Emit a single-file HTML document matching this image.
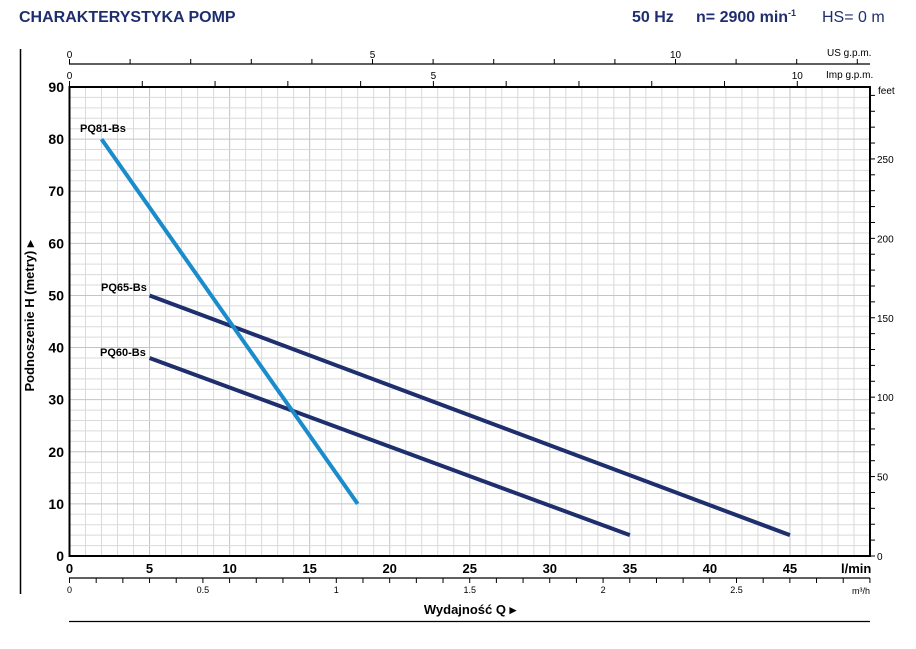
<!DOCTYPE html>
<html><head><meta charset="utf-8"><style>
body{margin:0;background:#fff;width:916px;height:649px;overflow:hidden}
svg{display:block;font-family:"Liberation Sans",sans-serif}
</style></head><body>
<svg id="s" width="916" height="649" xmlns="http://www.w3.org/2000/svg">
<text x="19" y="22" font-size="16" font-weight="bold" fill="#1f2f6e">CHARAKTERYSTYKA POMP</text>
<text x="632" y="22" font-size="16" font-weight="bold" fill="#1f2f6e">50 Hz</text>
<text x="696" y="22" font-size="16" font-weight="bold" fill="#1f2f6e">n= 2900 min<tspan font-size="9" dy="-6">-1</tspan></text>
<text x="822" y="22" font-size="16" fill="#1f2f6e">HS= 0 m</text>
<line x1="20.5" y1="49" x2="20.5" y2="594" stroke="#000" stroke-width="1.5"/>
<line x1="69" y1="621.5" x2="870" y2="621.5" stroke="#000" stroke-width="1.2"/>
<g id="g"></g>
<text x="34" y="316" font-size="13" font-weight="bold" transform="rotate(-90 34 316)" text-anchor="middle">Podnoszenie H (metry) ▸</text>
<text x="470" y="614" font-size="13" font-weight="bold" text-anchor="middle">Wydajność Q ▸</text>
<text x="878" y="94" font-size="10">feet</text>
<text x="827" y="56" font-size="10">US g.p.m.</text>
<text x="826" y="78" font-size="10">Imp g.p.m.</text>
<text x="841" y="573" font-size="13" font-weight="bold">l/min</text>
<text x="852" y="594" font-size="9">m³/h</text>
<text x="80" y="132" font-size="11" font-weight="bold">PQ81-Bs</text>
<text x="101" y="291" font-size="11" font-weight="bold">PQ65-Bs</text>
<text x="100" y="356" font-size="11" font-weight="bold">PQ60-Bs</text>
</svg>
<script>
var g=document.getElementById('g'),h='';
function X(q){return 69.5+q*16.01}function Y(m){return 556-m*5.211}
for(var q=0;q<=50;q++){var x=X(q);h+='<line x1="'+x+'" y1="87" x2="'+x+'" y2="556" stroke="'+(q%5?'#dadada':'#c4c4c4')+'" stroke-width="1"/>';}
for(var m=0;m<=90;m+=2){var y=Y(m);h+='<line x1="69.5" y1="'+y+'" x2="870" y2="'+y+'" stroke="'+(m%10?'#dadada':'#c4c4c4')+'" stroke-width="1"/>';}
h+='<rect x="69.5" y="87" width="800.5" height="469" fill="none" stroke="#000" stroke-width="2"/>';
for(var m=0;m<=90;m+=10){h+='<text x="64" y="'+(Y(m)+5)+'" font-size="14" font-weight="bold" text-anchor="end">'+m+'</text>';}
for(var q=0;q<=45;q+=5){h+='<text x="'+X(q)+'" y="573" font-size="13" font-weight="bold" text-anchor="middle">'+q+'</text>';}
for(var f=0;f<=290;f+=10){var y=556-f*0.3048*5.211;if(y<87)break;h+='<line x1="870" y1="'+y+'" x2="875" y2="'+y+'" stroke="#000"/>';if(f%50==0)h+='<text x="877" y="'+(y+4)+'" font-size="10">'+f+'</text>';}
h+='<line x1="69" y1="64" x2="870" y2="64" stroke="#000" stroke-width="1.2"/>';
for(var i=0;i<=13;i++){var x=69.5+i*60.6;if(x>870)break;h+='<line x1="'+x+'" y1="59" x2="'+x+'" y2="64" stroke="#000"/>';if(i%5==0)h+='<text x="'+x+'" y="58" font-size="10" text-anchor="middle">'+i+'</text>';}
for(var i=0;i<=11;i++){var x=69.5+i*72.78;if(x>870)break;h+='<line x1="'+x+'" y1="81" x2="'+x+'" y2="87" stroke="#000"/>';if(i%5==0)h+='<text x="'+x+'" y="79" font-size="10" text-anchor="middle">'+i+'</text>';}
h+='<line x1="69" y1="578" x2="870" y2="578" stroke="#000" stroke-width="1.2"/>';
for(var i=0;i<=30;i++){var x=69.5+i*26.68;if(x>871)break;h+='<line x1="'+x+'" y1="578" x2="'+x+'" y2="583" stroke="#000"/>';if(i%5==0&&i<30)h+='<text x="'+x+'" y="593" font-size="9" text-anchor="middle">'+(i/10)+'</text>';}
function L(a,b,c,d,col){h+='<line x1="'+X(a)+'" y1="'+Y(b)+'" x2="'+X(c)+'" y2="'+Y(d)+'" stroke="'+col+'" stroke-width="4"/>';}
L(5,50,45,4,'#1f2f6e');L(5,38,35,4,'#1f2f6e');L(2,80,18,10,'#1a8bcb');
g.innerHTML=h;
</script>
</body></html>
